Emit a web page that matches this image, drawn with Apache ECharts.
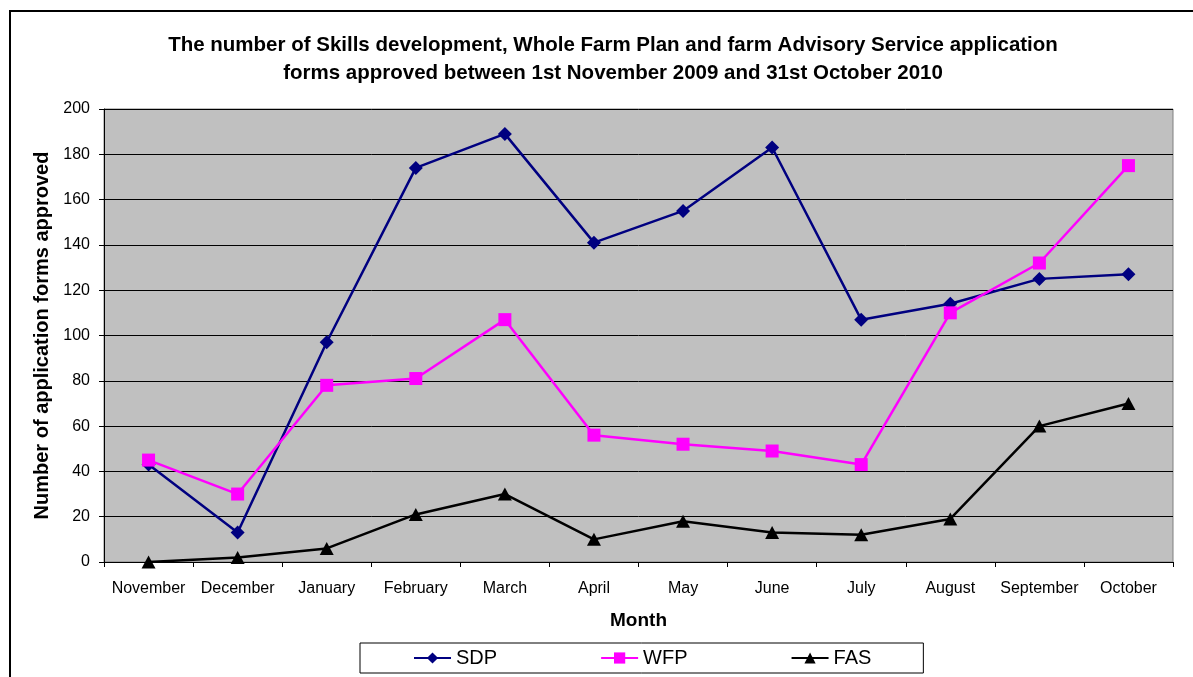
<!DOCTYPE html>
<html>
<head>
<meta charset="utf-8">
<script src="https://cdn.jsdelivr.net/npm/echarts@6/dist/echarts.min.js"></script>
<style>
html,body{margin:0;padding:0;background:#fff;}
#chart{width:1193px;height:677px;}
</style>
</head>
<body>
<div id="chart"></div>
<script>
const months = ['November','December','January','February','March','April','May','June','July','August','September','October'];
const sdp = [43, 13, 97, 174, 189, 141, 155, 183, 107, 114, 125, 127];
const wfp = [45, 30, 78, 81, 107, 56, 52, 49, 43, 110, 132, 175];
const fas = [0, 2, 6, 21, 30, 10, 18, 13, 12, 19, 60, 70];
const yTicks = [0, 20, 40, 60, 80, 100, 120, 140, 160, 180, 200];

const FONT = '"Liberation Sans", Arial, sans-serif';
const chart = echarts.init(document.getElementById('chart'));
chart.setOption({
  animation: false,
  backgroundColor: '#ffffff',
  textStyle: { fontFamily: FONT },
  title: {
    text: 'The number of Skills development, Whole Farm Plan and farm Advisory Service application\nforms approved between 1st November 2009 and 31st October 2010',
    left: 608, top: 26, textAlign: 'center',
    textStyle: { fontFamily: FONT, fontSize: 20.5, fontWeight: 'bold', color: '#000', lineHeight: 28 }
  },
  graphic: [{
    type: 'rect', shape: { x: 10, y: 11, width: 1200, height: 700 },
    style: { fill: 'none', stroke: '#000', lineWidth: 2 }, silent: true, z: 0
  }],
  grid: {
    left: 104, right: 20, top: 109, bottom: 115,
    show: true, backgroundColor: '#c0c0c0', borderColor: '#808080', borderWidth: 1
  },
  legend: {
    left: 360, top: 643,
    orient: 'horizontal',
    data: ['SDP', 'WFP', 'FAS'],
    borderColor: '#000', borderWidth: 1,
    padding: [5, 52, 5, 53],
    itemWidth: 37, itemHeight: 14, itemGap: 103,
    textStyle: { fontFamily: FONT, fontSize: 20, color: '#000' }
  },
  xAxis: {
    type: 'category', data: months, boundaryGap: true,
    name: 'Month', nameLocation: 'middle', nameGap: 49,
    nameTextStyle: { fontFamily: FONT, fontSize: 19, fontWeight: 'bold', color: '#000' },
    axisLine: { lineStyle: { color: '#000', width: 1 } },
    axisTick: { show: true, length: 5, alignWithLabel: false, lineStyle: { color: '#000' } },
    axisLabel: { fontFamily: FONT, fontSize: 16, color: '#000', margin: 19, interval: 0 },
    splitLine: { show: false }
  },
  yAxis: {
    type: 'value', min: 0, max: 200, interval: 20,
    name: 'Number of application forms approved', nameLocation: 'middle', nameGap: 52, nameRotate: 90,
    nameTextStyle: { fontFamily: FONT, fontSize: 20, fontWeight: 'bold', color: '#000' },
    axisLine: { show: true, lineStyle: { color: '#000', width: 1 } },
    axisTick: { show: true, length: 5, lineStyle: { color: '#000' } },
    axisLabel: { fontFamily: FONT, fontSize: 16, color: '#000', margin: 14,
      formatter: v => yTicks.includes(v) ? String(v) : '' },
    splitLine: { show: true, lineStyle: { color: '#000', width: 1 } }
  },
  series: [
    { name: 'SDP', type: 'line', data: sdp, symbol: 'diamond', symbolSize: 14,
      itemStyle: { color: '#000080' }, lineStyle: { color: '#000080', width: 2.5 } },
    { name: 'WFP', type: 'line', data: wfp, symbol: 'rect', symbolSize: 13,
      itemStyle: { color: '#ff00ff' }, lineStyle: { color: '#ff00ff', width: 2.5 } },
    { name: 'FAS', type: 'line', data: fas, symbol: 'triangle', symbolSize: [14, 13],
      itemStyle: { color: '#000000' }, lineStyle: { color: '#000000', width: 2.5 } }
  ]
});
</script>
</body>
</html>
